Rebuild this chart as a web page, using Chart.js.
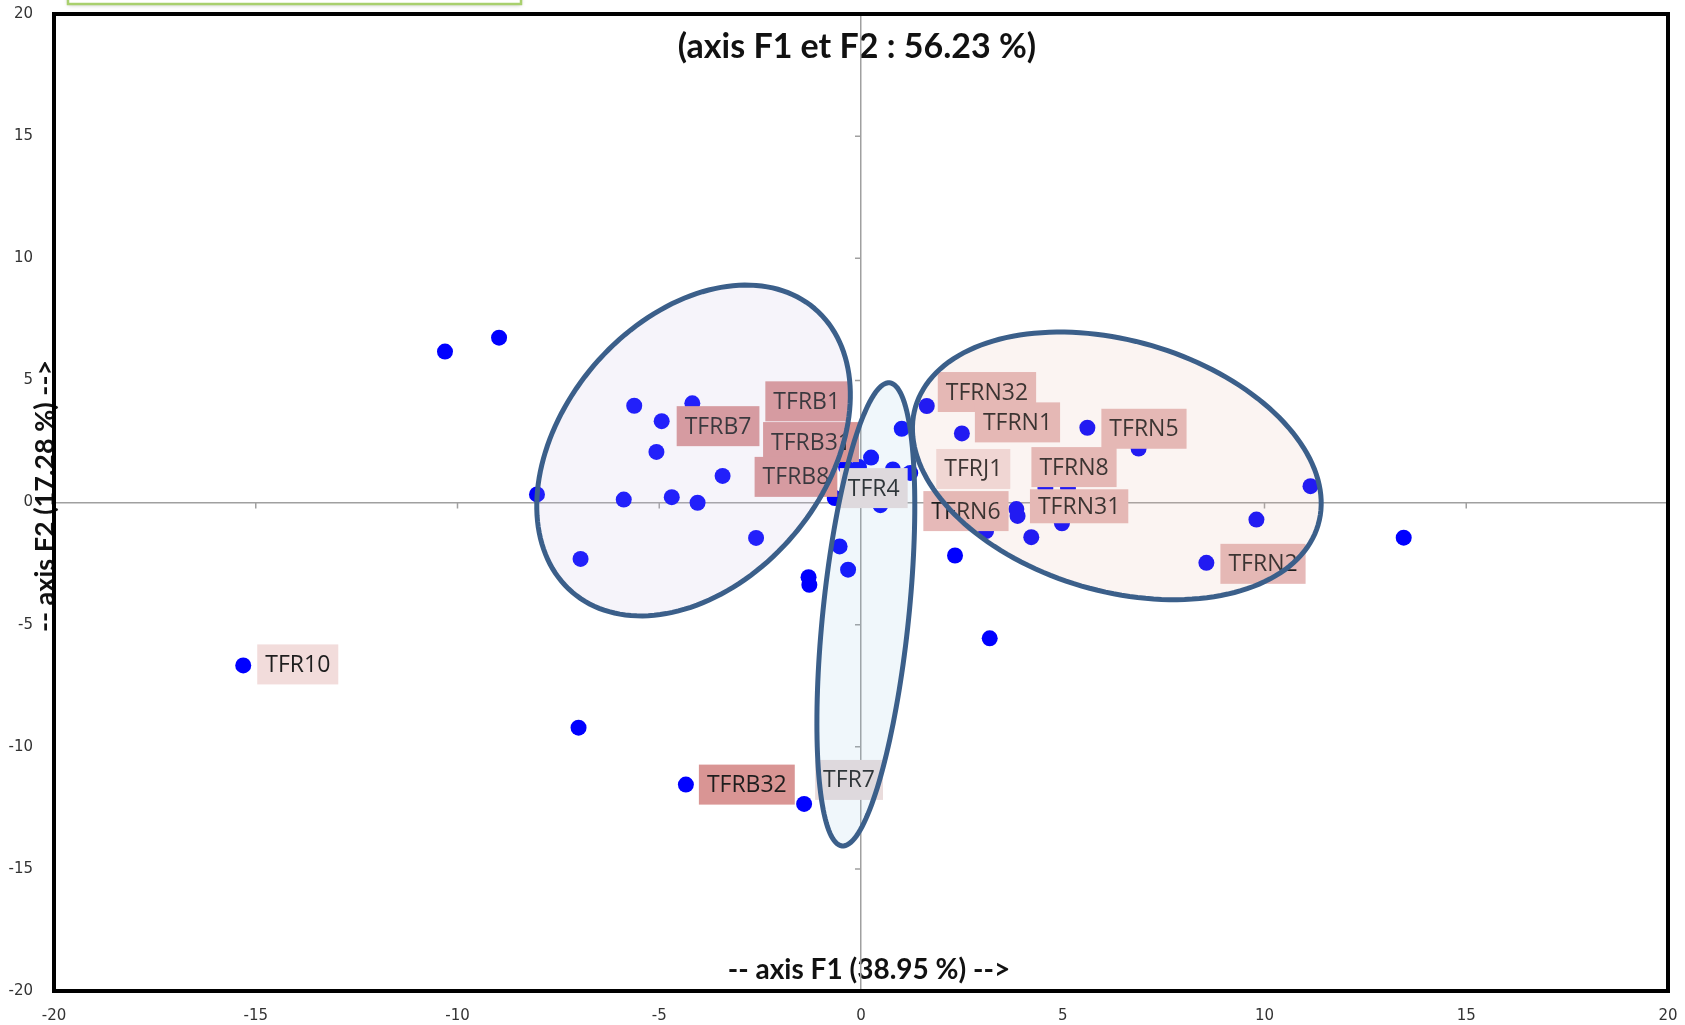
<!DOCTYPE html>
<html>
<head>
<meta charset="utf-8">
<script src="https://cdn.jsdelivr.net/npm/chart.js@4.4.0/dist/chart.umd.min.js"></script>
<style>
  html, body { margin: 0; padding: 0; background: #fff; overflow: hidden; }
  #zone { width: 1685px; height: 1025px; }
</style>
</head>
<body>
<div id="zone"><canvas id="acp" width="1685" height="1025"></canvas></div>
<script>
/* ----- Individus : coordonnées sur F1 et F2 ----- */
const f1 = [
  -10.31, -8.97, -8.03, -6.95, -7.00, -15.31, -5.88, -5.62, -4.94, -4.18,
  -5.07, -4.69, -4.05, -3.43, -2.60, -4.34, -1.41, -1.30, -1.28, -0.53,
  -0.32, 0.25, 1.01, 1.63, 0.79, 0.48, -0.65, -0.37, -0.05, 1.22,
  2.50, 5.61, 6.88, 11.14, 9.80, 8.56, 3.85, 3.88, 4.22, 4.98,
  3.10, 2.33, 4.57, 5.13, 13.45, 3.19
];
const f2 = [
  6.18, 6.75, 0.33, -2.31, -9.22, -6.67, 0.12, 3.96, 3.33, 4.06,
  2.07, 0.22, -0.01, 1.09, -1.45, -11.55, -12.34, -3.06, -3.37, -1.80,
  -2.75, 1.84, 3.02, 3.95, 1.35, -0.11, 0.18, 1.45, 1.45, 1.21,
  2.83, 3.06, 2.21, 0.67, -0.70, -2.47, -0.27, -0.55, -1.42, -0.85,
  -1.17, -2.17, 0.59, 0.59, -1.44, -5.56
];
// nom affiché à côté du point ("" = sans étiquette)
const noms = [
  "", "", "", "", "", "TFR10", "", "", "TFRB7", "TFRB1",
  "", "", "", "TFRB8", "", "TFRB32", "TFR7", "", "", "",
  "", "", "", "TFRN32", "", "", "TFR4", "TFRB31", "", "TFRJ1",
  "TFRN1", "TFRN5", "", "", "", "TFRN2", "TFRN6", "", "", "TFRN31",
  "", "", "TFRN8", "", "", ""
];

/* ----- Axes et titres ----- */
const axeMin = -20;
const axeMax = 20;
const pas = 5;
const titre = "(axis F1 et F2 : 56.23 %)";
const titreX = "-- axis F1 (38.95 %) -->";
const titreY = "-- axis F2 (17.28 %) -->";

/* ----- Placement des étiquettes (décalage en px depuis le point) ----- */
const couleurB = "#D99594";
const couleurN = "#E6B9B8";
const couleurJ = "#F2DCDB";
const couleurG = "#EADCDC";
const etiquettes = {
  TFR10:  { dx: 14,  dy: -1,  fond: couleurJ },
  TFRB32: { dx: 13,  dy: 0,   fond: couleurB },
  TFR7:   { dx: 11,  dy: -24, fond: couleurG },
  TFRB7:  { dx: 15,  dy: 5,   fond: couleurB },
  TFRB1:  { dx: 73,  dy: -2,  fond: couleurB },
  TFRB31: { dx: -83, dy: -25, fond: couleurB },
  TFRB8:  { dx: 32,  dy: 1,   fond: couleurB },
  TFR4:   { dx: 5,   dy: -10, fond: couleurG },
  TFRN32: { dx: 11,  dy: -14, fond: couleurN },
  TFRN1:  { dx: 13,  dy: -11, fond: couleurN },
  TFRN5:  { dx: 14,  dy: 1,   fond: couleurN },
  TFRJ1:  { dx: 26,  dy: -4,  fond: couleurJ },
  TFRN8:  { dx: -14, dy: -21, fond: couleurN },
  TFRN6:  { dx: -93, dy: 2,   fond: couleurN },
  TFRN31: { dx: -32, dy: -17, fond: couleurN, h: 34 },
  TFRN2:  { dx: 14,  dy: 1,   fond: couleurN }
};
const ordreEtiquettes = ["TFR10", "TFRB32", "TFR7", "TFRB7", "TFRB1", "TFRB31", "TFRB8", "TFR4",
  "TFRN32", "TFRN1", "TFRN5", "TFRJ1", "TFRN8", "TFRN6", "TFRN31", "TFRN2"];

/* ----- Ellipses des groupes (centre + demi-axes, en unités des axes) ----- */
const groupes = [
  { c: [-4.15, 2.13], u: [3.00, 5.81],  v: [-2.47, 3.48], fond: "rgba(200,190,225,0.17)" },
  { c: [0.12, -4.58], u: [0.59, 9.48],  v: [-1.06, 0.18], fond: "rgba(150,200,230,0.14)" },
  { c: [6.34, 1.50],  u: [4.99, -2.41], v: [0.87, 4.92],  fond: "rgba(230,180,170,0.15)" }
];

/* ----- Dessins en plus du graphique ----- */
const decor = {
  id: "decor",
  beforeDraw(chart) {
    const ctx = chart.ctx;
    ctx.save();
    // bord de la zone de texte verte coupée en haut
    ctx.shadowColor = "rgba(0,0,0,0.25)";
    ctx.shadowBlur = 4;
    ctx.shadowOffsetY = 1;
    ctx.fillStyle = "#fff";
    ctx.fillRect(68, -10, 453, 14);
    ctx.shadowColor = "transparent";
    ctx.strokeStyle = "#A9D06E";
    ctx.lineWidth = 2.5;
    ctx.strokeRect(68, -10, 453, 14);
    // titres
    ctx.fillStyle = "#111";
    ctx.textAlign = "center";
    ctx.textBaseline = "middle";
    ctx.font = "bold 34px Lato";
    ctx.fillText(titre, 857, 47);
    ctx.font = "bold 28px Lato";
    ctx.fillText(titreX, 869, 970);
    ctx.font = "bold 27px Lato";
    ctx.translate(45, 496);
    ctx.rotate(-Math.PI / 2);
    ctx.fillText(titreY, 0, 0);
    ctx.restore();
  },
  beforeDatasetsDraw(chart) {
    const ctx = chart.ctx;
    const a = chart.chartArea;
    const sx = chart.scales.x, sy = chart.scales.y;
    const x0 = sx.getPixelForValue(0), y0 = sy.getPixelForValue(0);
    ctx.save();
    ctx.strokeStyle = "#A0A0A0";
    ctx.lineWidth = 1.5;
    ctx.beginPath();
    for (let v = axeMin; v <= axeMax; v += pas) {
      if (v === 0) continue;
      const py = sy.getPixelForValue(v);
      ctx.moveTo(x0 - 6, py); ctx.lineTo(x0, py);
      const px = sx.getPixelForValue(v);
      ctx.moveTo(px, y0); ctx.lineTo(px, y0 + 6);
    }
    ctx.stroke();
    // cadre noir
    ctx.strokeStyle = "#000";
    ctx.lineWidth = 4;
    ctx.strokeRect(a.left, a.top, a.right - a.left, a.bottom - a.top);
    ctx.restore();
  },
  afterDatasetsDraw(chart) {
    const ctx = chart.ctx;
    const sx = chart.scales.x, sy = chart.scales.y;
    ctx.save();
    // étiquettes
    ctx.font = "23px 'Open Sans'";
    ctx.textBaseline = "middle";
    ordreEtiquettes.forEach(nom => {
      const i = noms.indexOf(nom);
      const e = etiquettes[nom];
      const px = sx.getPixelForValue(f1[i]) + e.dx;
      const py = sy.getPixelForValue(f2[i]) + e.dy;
      const h = e.h || 40;
      const w = ctx.measureText(nom).width + 16;
      ctx.fillStyle = e.fond;
      ctx.fillRect(px, py - h / 2, w, h);
      ctx.fillStyle = "#1E1E1E";
      ctx.fillText(nom, px + 8, py + 1);
    });
    // ellipses par-dessus
    groupes.forEach(g => {
      ctx.beginPath();
      for (let k = 0; k <= 160; k++) {
        const t = k / 160 * 2 * Math.PI;
        const ex = sx.getPixelForValue(g.c[0] + g.u[0] * Math.cos(t) + g.v[0] * Math.sin(t));
        const ey = sy.getPixelForValue(g.c[1] + g.u[1] * Math.cos(t) + g.v[1] * Math.sin(t));
        if (k === 0) ctx.moveTo(ex, ey); else ctx.lineTo(ex, ey);
      }
      ctx.closePath();
      ctx.fillStyle = g.fond;
      ctx.fill();
      ctx.lineWidth = 5;
      ctx.strokeStyle = "#3B5F8A";
      ctx.stroke();
    });
    ctx.restore();
  }
};

/* ----- Graphique ----- */
const grilleZero = ctx => ctx.tick && ctx.tick.value === 0 ? "#A0A0A0" : "rgba(0,0,0,0)";

new Chart(document.getElementById("acp"), {
  type: "scatter",
  data: {
    datasets: [{
      data: f1.map((x, i) => ({ x: x, y: f2[i] })),
      backgroundColor: "#0000FF",
      borderWidth: 0,
      pointRadius: 8,
      pointHoverRadius: 8
    }]
  },
  options: {
    responsive: false,
    animation: false,
    events: [],
    layout: { padding: { top: 14, right: 17, left: 0, bottom: 0 } },
    plugins: { legend: { display: false }, tooltip: { enabled: false } },
    scales: {
      x: {
        type: "linear", min: axeMin, max: axeMax,
        ticks: { stepSize: pas, color: "#333", padding: 0, font: { family: "DejaVu Sans", size: 15 } },
        grid: { color: grilleZero, lineWidth: 1.5, drawTicks: true, tickLength: 16, tickColor: "rgba(0,0,0,0)" },
        border: { display: false },
        afterFit: s => { s.height = 34; }
      },
      y: {
        type: "linear", min: axeMin, max: axeMax,
        ticks: { stepSize: pas, color: "#333", padding: 0, font: { family: "DejaVu Sans", size: 15 } },
        grid: { color: grilleZero, lineWidth: 1.5, drawTicks: true, tickLength: 21, tickColor: "rgba(0,0,0,0)" },
        border: { display: false },
        afterFit: s => { s.width = 54; }
      }
    }
  },
  plugins: [decor]
});
</script>
</body>
</html>
